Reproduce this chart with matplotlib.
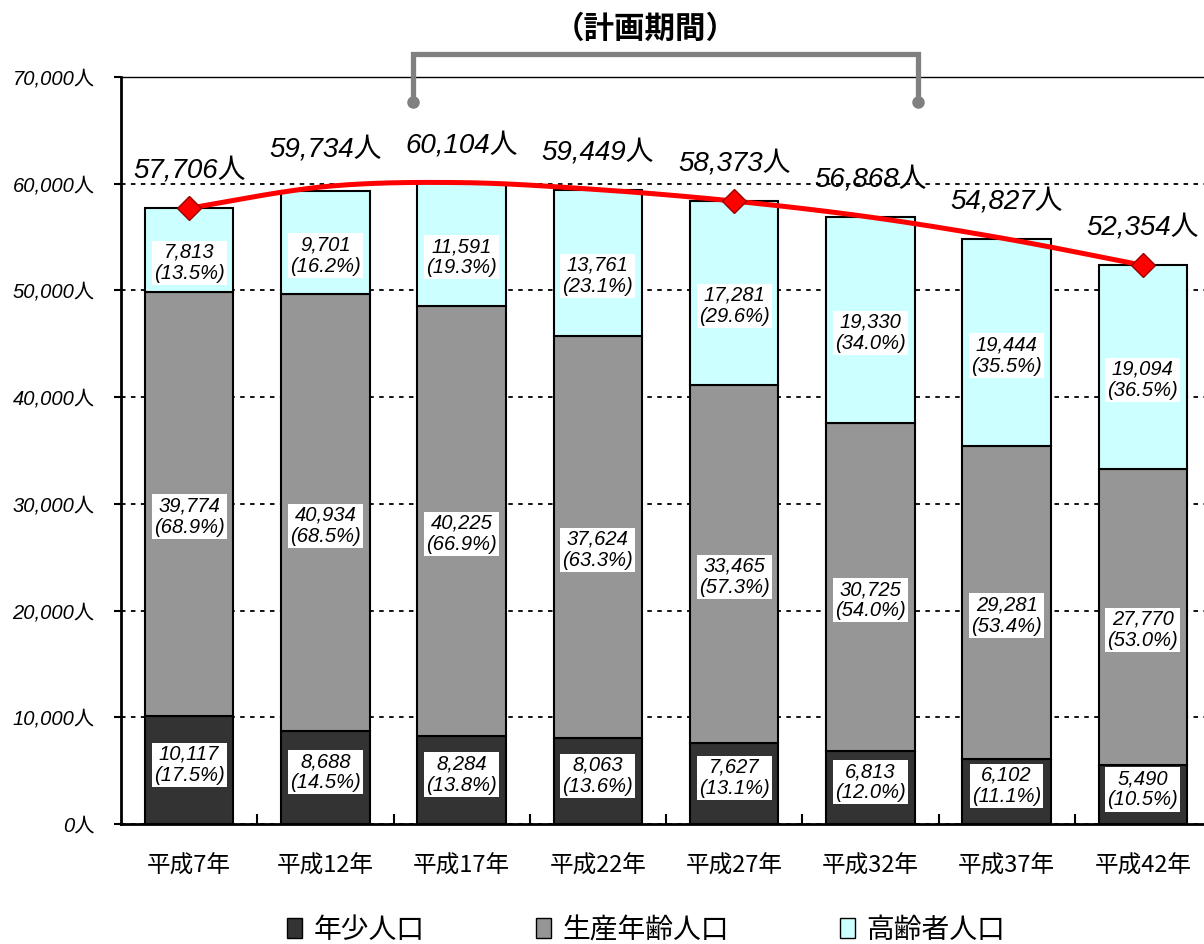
import numpy as np
import matplotlib
matplotlib.use("Agg")
import matplotlib.pyplot as plt
from matplotlib.patches import Patch
from matplotlib.ticker import FixedLocator

plt.rcParams['font.family'] = ['Noto Sans CJK JP', 'DejaVu Sans']

years = ["平成7年", "平成12年", "平成17年", "平成22年", "平成27年", "平成32年", "平成37年", "平成42年"]
young = [10117, 8688, 8284, 8063, 7627, 6813, 6102, 5490]
working = [39774, 40934, 40225, 37624, 33465, 30725, 29281, 27770]
elderly = [7813, 9701, 11591, 13761, 17281, 19330, 19444, 19094]
totals = [57706, 59734, 60104, 59449, 58373, 56868, 54827, 52354]
young_pct = [17.5, 14.5, 13.8, 13.6, 13.1, 12.0, 11.1, 10.5]
working_pct = [68.9, 68.5, 66.9, 63.3, 57.3, 54.0, 53.4, 53.0]
elderly_pct = [13.5, 16.2, 19.3, 23.1, 29.6, 34.0, 35.5, 36.5]
marked = [0, 4, 7]
yticks = [0, 10000, 20000, 30000, 40000, 50000, 60000, 70000]

num_font = ['Liberation Sans', 'Noto Sans CJK JP']


def smooth(xs, ys, n=30):
    # catmull-rom style bezier, like the spreadsheet "smoothed line"
    p = np.column_stack([xs, ys]).astype(float)
    p = np.vstack([p[0], p, p[-1]])
    out = []
    for i in range(1, len(p) - 2):
        p0, p1, p2, p3 = p[i - 1], p[i], p[i + 1], p[i + 2]
        c1 = p1 + (p2 - p0) / 6
        c2 = p2 - (p3 - p1) / 6
        t = np.linspace(0, 1, n)[:, None]
        seg = (1 - t) ** 3 * p1 + 3 * (1 - t) ** 2 * t * c1 + 3 * (1 - t) * t ** 2 * c2 + t ** 3 * p2
        out.append(seg)
    out = np.vstack(out)
    return out[:, 0], out[:, 1]


fig = plt.figure(figsize=(12.04, 9.44), dpi=100)
ax = fig.add_axes([121 / 1204, 120 / 944, 1090 / 1204, 747 / 944])

x = np.arange(len(years))
young = np.array(young)
working = np.array(working)
elderly = np.array(elderly)

w = 0.65
ax.bar(x, young, w, color="#333333", edgecolor="black", linewidth=1.5, zorder=2)
ax.bar(x, working, w, bottom=young, color="#969696", edgecolor="black", linewidth=1.5, zorder=2)
ax.bar(x, elderly, w, bottom=young + working, color="#CCFFFF", edgecolor="black", linewidth=1.5, zorder=2)

sx, sy = smooth(x, totals)
ax.plot(sx, sy, color="#FF0000", lw=3.6, zorder=4, solid_capstyle="round")
ax.plot(x[marked], np.array(totals)[marked], "D", ms=12.5, color="#FF0000",
        markeredgecolor="#990000", markeredgewidth=1, zorder=5)

box = dict(facecolor="white", edgecolor="none", pad=1.5)
for i in x:
    ax.text(i, young[i] / 2 + 500, f"{young[i]:,}\n({young_pct[i]:.1f}%)", ha="center", va="center",
            fontsize=14.5, style="italic", family=num_font, bbox=box, zorder=6, linespacing=1.15)
    ax.text(i, young[i] + working[i] / 2 - 1200, f"{working[i]:,}\n({working_pct[i]:.1f}%)", ha="center",
            va="center", fontsize=14.5, style="italic", family=num_font, bbox=box, zorder=6, linespacing=1.15)
    ax.text(i, young[i] + working[i] + elderly[i] / 2 - 1200, f"{elderly[i]:,}\n({elderly_pct[i]:.1f}%)",
            ha="center", va="center", fontsize=14.5, style="italic", family=num_font, bbox=box, zorder=6,
            linespacing=1.15)
    ax.text(i, totals[i] + 3500, f"{totals[i]:,}人", ha="center", va="center", fontsize=20,
            style="italic", family=num_font, zorder=6)

ax.set_xlim(-0.5, len(years) - 0.5)
ax.set_ylim(0, 70000)
ax.set_yticks(yticks)
ax.set_yticklabels([f"{v:,}人" for v in yticks], fontsize=14.5, style="italic", family=num_font)
ax.tick_params(axis="y", direction="out", length=5, width=1.5, pad=14)
ax.set_xticks(x)
ax.set_xticklabels(years, fontsize=17)
ax.tick_params(axis="x", length=0, pad=22)
ax.xaxis.set_minor_locator(FixedLocator(x[:-1] + 0.5))
ax.tick_params(axis="x", which="minor", direction="in", length=7, width=1.5)

ax.grid(axis="y", color="black", linestyle=(0, (2.5, 3)), linewidth=1.3)
ax.set_axisbelow(True)
for s in ["left", "bottom"]:
    ax.spines[s].set_linewidth(2)
ax.spines["top"].set_linewidth(1)
ax.spines["right"].set_visible(False)

# plan period bracket
bx = [1.645, 1.645, 5.35, 5.35]
by = [67700, 72200, 72200, 67700]
ax.plot(bx, by, color="#808080", lw=3.8, clip_on=False, zorder=3, solid_joinstyle="miter")
ax.plot([bx[0], bx[-1]], [by[0], by[-1]], "o", color="#808080", ms=8, clip_on=False, zorder=3)
fig.text(645 / 1204, 1 - 29 / 944, "（計画期間）", ha="center", va="center", fontsize=22, fontweight="bold")

handles = [Patch(facecolor="#333333", edgecolor="black"),
           Patch(facecolor="#969696", edgecolor="black"),
           Patch(facecolor="#CCFFFF", edgecolor="black")]
fig.legend(handles, ["年少人口", "生産年齢人口", "高齢者人口"], loc="center",
           bbox_to_anchor=(646 / 1204, 14 / 944), ncol=3, frameon=False, fontsize=20,
           handlelength=0.55, handleheight=0.75, handletextpad=0.4, columnspacing=4.0)

fig.savefig("out.png", dpi=100)
